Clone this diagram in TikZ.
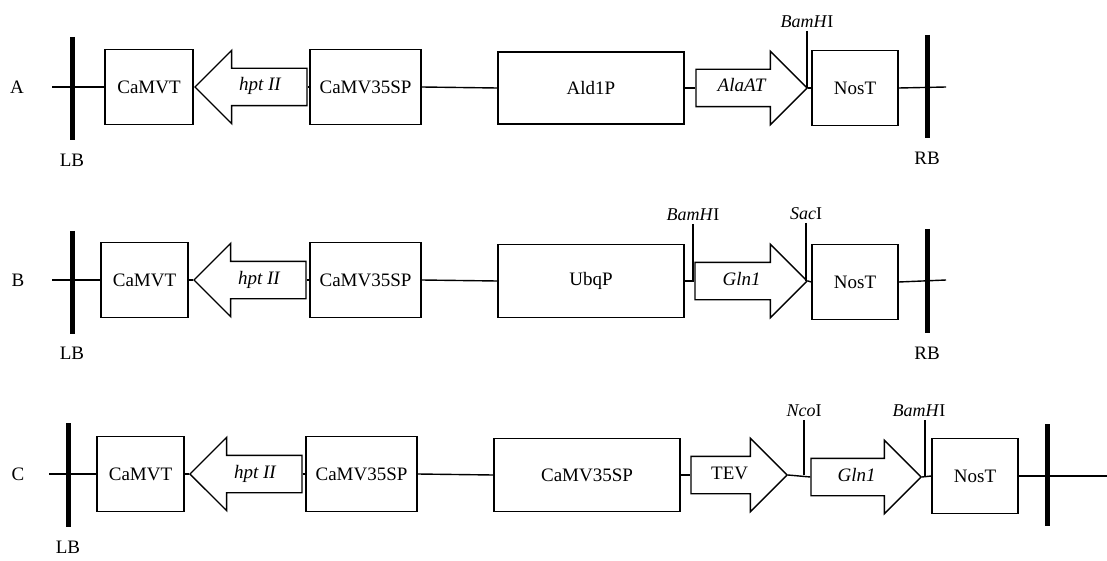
\documentclass[tikz,border=0pt]{standalone}
\usepackage{fontspec}
\setmainfont{Liberation Serif}
\usetikzlibrary{shapes.arrows,positioning}

\tikzset{
  part/.style={draw, line width=1.4pt, minimum height=75pt, inner sep=0pt},
  gene/.style={single arrow, draw, line width=1.4pt, single arrow tip angle=90,
    single arrow head extend=18pt, minimum width=72pt, inner xsep=0pt,
    inner ysep=9pt, text height=13pt, text depth=5pt},
  dna/.style={line width=1.4pt},
  border/.style={line width=5pt},
  site/.style={font=\fontsize{18}{20}\selectfont, inner sep=1pt},
}

\begin{document}
\begin{tikzpicture}[x=1pt, y=-1pt, font=\fontsize{19}{23}\selectfont]
  \useasboundingbox (0,0) rectangle (1107,561);

  % construct A
  \node (rowA) at (17,87) {A};
  \coordinate (startA) at (52,87);
  \coordinate (endA) at (946,87);
  \node[part, minimum width=88pt] (camvtA) at (149,87) {CaMVT};
  \node[gene, shape border rotate=180, minimum height=112pt, anchor=tip] (hptA) at (194,87) {\textit{hpt II}};
  \node[part, minimum width=111pt] (p35sA) at (365.5,87) {CaMV35SP};
  \node[part, minimum width=186pt, minimum height=72pt] (ald) at (591,88) {Ald1P};
  \node[gene, minimum height=111pt, anchor=tip] (alaat) at (808,88) {\textit{AlaAT}};
  \node[part, minimum width=86pt] (nosA) at (855,88) {NosT};
  \coordinate (bamA) at (807,31);
  \node[site, above=2pt of bamA] (bamAlab) {\textit{BamH}I};
  \draw[dna] (startA) -- (camvtA.west);
  \draw[dna] (hptA.tail) -- (p35sA.west);
  \draw[dna] (p35sA.east) -- (ald.west);
  \draw[dna] (ald.east) -- (alaat.tail);
  \draw[dna] (alaat.tip) -- (nosA.west);
  \draw[dna] (nosA.east) -- (endA);
  \draw[dna] (bamA) -- (bamA |- alaat.tip);
  \draw[border] (72,37) -- (72,140);
  \draw[border] (927,35) -- (927,138);
  \node (lbA) at (72,160) {LB};
  \node (rbA) at (927,158) {RB};

  % construct B
  \node (rowB) at (18,280) {B};
  \coordinate (startB) at (52,280);
  \coordinate (endB) at (946,280);
  \node[part, minimum width=87pt] (camvtB) at (144.5,280) {CaMVT};
  \node[gene, shape border rotate=180, minimum height=112pt, anchor=tip] (hptB) at (193,280) {\textit{hpt II}};
  \node[part, minimum width=111pt] (p35sB) at (365.5,280) {CaMV35SP};
  \node[part, minimum width=186pt, minimum height=73pt] (ubq) at (591,281) {UbqP};
  \node[gene, minimum height=112pt, anchor=tip] (glnB) at (808,281) {\textit{Gln1}};
  \node[part, minimum width=86pt] (nosB) at (855,282) {NosT};
  \coordinate (bamB) at (693,224);
  \coordinate (sacB) at (806,223);
  \node[site, above=2pt of bamB] (bamBlab) {\textit{BamH}I};
  \node[site, above=2pt of sacB] (sacBlab) {\textit{Sac}I};
  \draw[dna] (startB) -- (camvtB.west);
  \draw[dna] (camvtB.east) -- (hptB.tip);
  \draw[dna] (hptB.tail) -- (p35sB.west);
  \draw[dna] (p35sB.east) -- (ubq.west);
  \draw[dna] (ubq.east) -- (glnB.tail);
  \draw[dna] (glnB.tip) -- (nosB.west);
  \draw[dna] (nosB.east) -- (endB);
  \draw[dna] (bamB) -- (bamB |- glnB.tail);
  \draw[dna] (sacB) -- (sacB |- glnB.tip);
  \draw[border] (72,231) -- (72,334);
  \draw[border] (927,229) -- (927,333);
  \node (lbB) at (72,353) {LB};
  \node (rbB) at (927,353) {RB};

  % construct C
  \node (rowC) at (18,474) {C};
  \coordinate (startC) at (49,474);
  \coordinate (endC) at (1107,476);
  \node[part, minimum width=87pt] (camvtC) at (140.5,474) {CaMVT};
  \node[gene, shape border rotate=180, minimum height=112pt, anchor=tip] (hptC) at (189,474) {\textit{hpt II}};
  \node[part, minimum width=111pt] (p35sC) at (361.5,474) {CaMV35SP};
  \node[part, minimum width=186pt, minimum height=73pt] (p35sCb) at (587,475) {CaMV35SP};
  \node[gene, minimum height=96pt, anchor=tip] (tev) at (788,475) {TEV};
  \node[gene, minimum height=110pt, anchor=tip] (glnC) at (922,477) {\textit{Gln1}};
  \node[part, minimum width=86pt] (nosC) at (975,476) {NosT};
  \coordinate (ncoC) at (804,420);
  \coordinate (bamC) at (925,420);
  \node[site, above=2pt of ncoC] (ncoClab) {\textit{Nco}I};
  \node[site, above=2pt of bamC, xshift=-6pt] (bamClab) {\textit{BamH}I};
  \draw[dna] (startC) -- (camvtC.west);
  \draw[dna] (camvtC.east) -- (hptC.tip);
  \draw[dna] (hptC.tail) -- (p35sC.west);
  \draw[dna] (p35sC.east) -- (p35sCb.west);
  \draw[dna] (p35sCb.east) -- (tev.tail);
  \draw[dna] (tev.tip) -- (glnC.tail);
  \draw[dna] (glnC.tip) -- (nosC.west);
  \draw[dna] (nosC.east) -- (endC);
  \draw[dna] (ncoC) -- (ncoC |- tev.tip);
  \draw[dna] (bamC) -- (bamC |- glnC.tip);
  \draw[border] (68,423) -- (68,527);
  \draw[border] (1047,424) -- (1047,526);
  \node (lbC) at (68,547) {LB};
\end{tikzpicture}
\end{document}
